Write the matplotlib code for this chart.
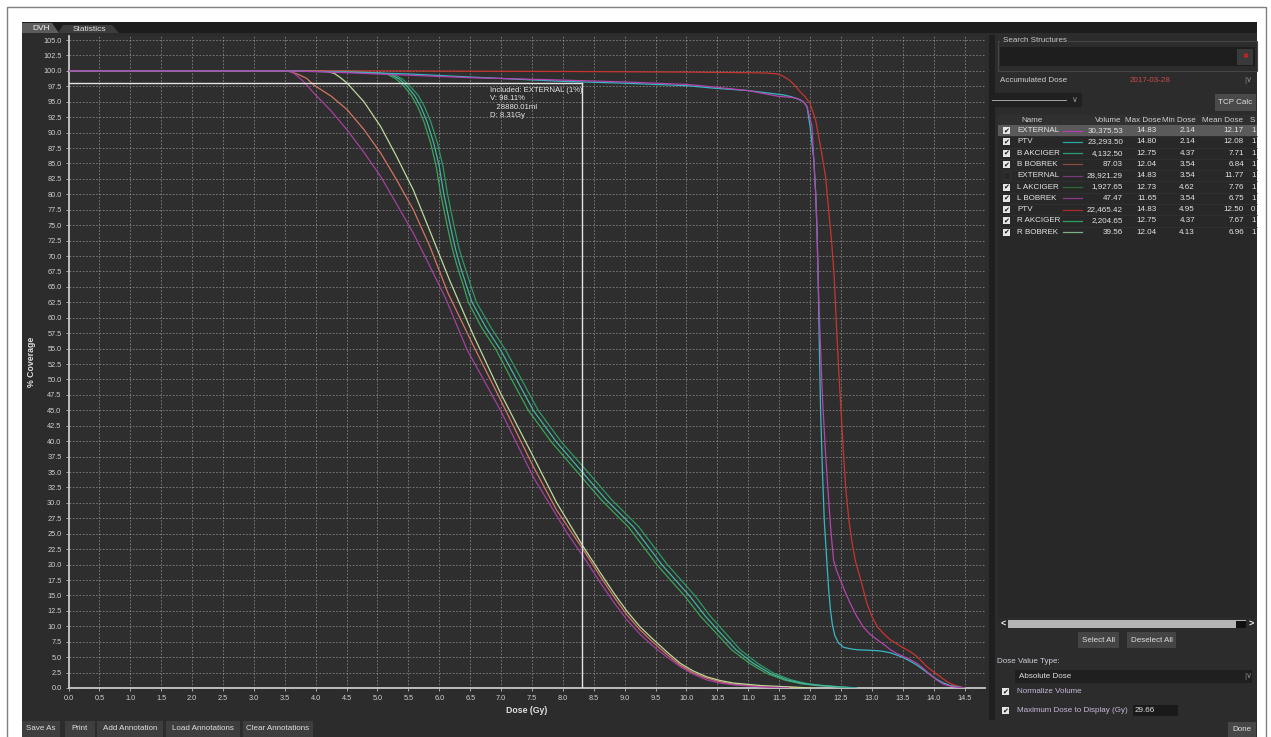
import matplotlib.pyplot as plt
from matplotlib.patches import Rectangle, Polygon
import numpy as np

# 字体设置
plt.rcParams['font.family'] = ['Liberation Sans', 'DejaVu Sans']

# DVH 曲线数据: 剂量 (Gy) 与 体积覆盖率 (%)
ptv_red_dose = [0, 4.95, 8.0, 10.0, 11.0, 11.3, 11.47, 11.55, 11.65, 11.75, 11.84, 11.92, 12.0, 12.09, 12.17,
                12.25, 12.3, 12.35, 12.39, 12.42, 12.46, 12.5, 12.54, 12.58, 12.63, 12.68, 12.73, 12.82, 12.92,
                13.0, 13.09, 13.2, 13.3, 13.51, 13.62, 13.73, 13.89, 14.0, 14.11, 14.22, 14.32, 14.5]
ptv_red_vol = [100, 100, 99.9, 99.8, 99.7, 99.65, 99.5, 99.2, 98.6, 97.7, 96.6, 95.8, 94.7, 92.0, 87.7,
               82.9, 77.5, 72.1, 66.6, 60.0, 52.0, 45.0, 38.0, 32.0, 27.0, 23.5, 20.7, 17.5, 13.7,
               11.6, 9.9, 8.7, 7.8, 6.5, 5.9, 5.1, 3.45, 2.6, 1.8, 1.0, 0.5, 0]

ptv_dose = [0, 3.6, 4.5, 5.5, 6.5, 8.0, 9.0, 10.0, 10.44, 11.0, 11.57, 11.7, 11.84, 11.9, 11.95, 12.0, 12.06,
            12.09, 12.11, 12.13, 12.15, 12.17, 12.2, 12.23, 12.27, 12.3, 12.33, 12.36, 12.4, 12.46, 12.54,
            12.65, 12.76, 13.09, 13.2, 13.3, 13.4, 13.51, 13.62, 13.73, 13.84, 13.95, 14.05, 14.16, 14.27,
            14.38, 14.5]
ptv_vol = [100, 100, 99.8, 99.5, 99.0, 98.3, 98.0, 97.6, 97.2, 96.8, 96.1, 95.8, 95.3, 94.9, 94.2, 91.0, 85.6,
           80.2, 74.8, 66.6, 55.0, 45.0, 35.0, 27.0, 20.7, 16.0, 12.6, 10.3, 8.5, 7.3, 6.6,
           6.35, 6.2, 6.05, 5.9, 5.7, 5.35, 4.9, 4.35, 3.7, 2.9, 2.1, 1.4, 0.8, 0.4,
           0.2, 0]

ext_dose = [0, 3.6, 4.5, 5.5, 6.5, 8.0, 9.0, 10.0, 10.23, 11.0, 11.47, 11.7, 11.8, 11.9, 11.95, 12.03, 12.06,
            12.09, 12.11, 12.14, 12.17, 12.2, 12.25, 12.3, 12.34, 12.38, 12.43, 12.49, 12.57, 12.65, 12.75,
            12.86, 12.97, 13.09, 13.2, 13.3, 13.4, 13.51, 13.62, 13.73, 13.84, 13.95, 14.05, 14.16, 14.32, 14.5]
ext_vol = [100, 100, 99.7, 99.3, 98.9, 98.5, 98.2, 97.8, 97.6, 96.8, 95.9, 95.7, 95.5, 94.9, 94.2, 91.0, 85.6,
           80.2, 74.8, 63.0, 55.0, 47.0, 38.0, 30.5, 25.0, 20.7, 19.0, 17.5, 15.5, 13.7, 11.7,
           9.9, 8.7, 7.8, 7.0, 6.2, 5.6, 5.1, 4.6, 4.0, 3.1, 2.1, 1.3, 0.6, 0.2, 0]

l_bobrek_dose = [0, 3.55, 3.65, 3.8, 3.97, 4.25, 4.51, 4.78, 5.05, 5.3, 5.58, 5.85, 6.1, 6.45, 6.99, 7.52,
                 8.07, 8.35, 8.61, 8.83, 9.04, 9.25, 9.47, 9.7, 9.9, 10.1, 10.33, 10.55, 10.76, 11.2, 11.65]
l_bobrek_vol = [100, 100, 99.6, 98.3, 96.4, 93.5, 90.4, 86.8, 82.9, 78.6, 73.7, 68.3, 63.2, 54.8, 45.0, 34.2,
                25.1, 21.0, 17.0, 13.8, 11.0, 8.7, 6.7, 4.9, 3.45, 2.3, 1.3, 0.8, 0.5, 0.2, 0]

b_bobrek_dose = [0, 3.54, 3.7, 3.85, 3.97, 4.25, 4.51, 4.78, 5.05, 5.3, 5.58, 5.85, 6.14, 6.55, 6.99, 7.52,
                 7.9, 8.33, 8.61, 8.83, 9.04, 9.25, 9.47, 9.7, 9.9, 10.1, 10.33, 10.55, 10.76, 11.3, 12.04]
b_bobrek_vol = [100, 100, 99.5, 98.8, 97.7, 95.9, 93.7, 90.5, 86.7, 82.5, 77.5, 71.5, 64.0, 55.5, 46.7, 35.9,
                28.8, 22.4, 18.0, 14.7, 11.8, 9.4, 7.3, 5.3, 3.7, 2.5, 1.6, 1.0, 0.6, 0.2, 0]

r_bobrek_dose = [0, 4.13, 4.3, 4.4, 4.51, 4.78, 5.05, 5.3, 5.58, 5.85, 6.17, 6.55, 6.99, 7.52, 7.9, 8.33,
                 8.61, 8.83, 9.04, 9.25, 9.47, 9.7, 9.9, 10.1, 10.33, 10.55, 10.76, 11.2, 12.04]
r_bobrek_vol = [100, 100, 99.6, 98.9, 98.0, 95.0, 91.0, 86.3, 80.7, 74.0, 66.0, 57.2, 47.8, 37.5, 30.0, 22.9,
                18.6, 15.3, 12.4, 9.9, 7.8, 5.7, 4.0, 2.8, 1.8, 1.2, 0.8, 0.4, 0]

akciger_vol = [100, 100, 99.5, 98.7, 97.5, 96.0, 94.2, 91.8, 88.3, 84.5, 80.2, 74.8, 71.2, 68.3, 65.2, 62.5,
               58.5, 54.8, 50.0, 45.0, 39.8, 34.8, 30.5, 26.1, 20.0, 14.8, 11.7, 8.9, 6.2, 4.0, 2.4, 1.3,
               0.7, 0.4, 0]
l_akciger_dose = [0, 4.62, 5.15, 5.3, 5.43, 5.55, 5.65, 5.75, 5.86, 5.95, 6.02, 6.13, 6.21, 6.29, 6.39, 6.47,
                  6.68, 6.92, 7.17, 7.44, 7.82, 8.25, 8.62, 9.06, 9.52, 9.98, 10.22, 10.48, 10.73, 11.02,
                  11.29, 11.58, 11.85, 12.1, 12.73]
b_akciger_dose = [0, 4.37, 5.2, 5.35, 5.48, 5.6, 5.7, 5.8, 5.91, 6.0, 6.07, 6.18, 6.26, 6.34, 6.44, 6.53,
                  6.75, 6.99, 7.25, 7.52, 7.9, 8.33, 8.7, 9.14, 9.6, 10.06, 10.3, 10.55, 10.8, 11.08,
                  11.35, 11.63, 11.9, 12.17, 12.75]
r_akciger_dose = [0, 4.37, 5.25, 5.4, 5.53, 5.66, 5.76, 5.86, 5.97, 6.06, 6.13, 6.24, 6.32, 6.41, 6.51, 6.6,
                  6.83, 7.07, 7.33, 7.6, 7.98, 8.42, 8.79, 9.23, 9.69, 10.15, 10.38, 10.63, 10.87, 11.15,
                  11.41, 11.7, 11.96, 12.22, 12.75]

# 结构列表
names = ['EXTERNAL', 'PTV', 'B AKCIGER', 'B BOBREK', 'EXTERNAL', 'L AKCIGER', 'L BOBREK', 'PTV',
         'R AKCIGER', 'R BOBREK']
volumes = [30375.53, 23293.50, 4132.50, 87.03, 28921.29, 1927.65, 47.47, 22465.42, 2204.65, 39.56]
max_doses = [14.83, 14.80, 12.75, 12.04, 14.83, 12.73, 11.65, 14.83, 12.75, 12.04]
min_doses = [2.14, 2.14, 4.37, 3.54, 3.54, 4.62, 3.54, 4.95, 4.37, 4.13]
mean_doses = [12.17, 12.08, 7.71, 6.84, 11.77, 7.76, 6.75, 12.50, 7.67, 6.96]
last_col = ['1', '1', '1', '1', '1', '1', '1', '0', '1', '1']
checked = [True, True, True, True, False, True, True, True, True, True]
row_colors = ['#b040b0', '#2aa6a6', '#2f9e70', '#8a4b3c', '#7a3a7a', '#2a6a34', '#8a3a8a', '#a82a2a',
              '#30a060', '#7fb088']

# 标注点
ann_dose = 8.31
ann_vol = 98.11
ann_ml = 28880.01

W, H = 1271, 737
fig = plt.figure(figsize=(W / 100, H / 100), dpi=100)
fig.patch.set_facecolor('white')

# 界面底层 (像素坐标)
ui = fig.add_axes([0, 0, 1, 1])
ui.set_xlim(0, W)
ui.set_ylim(H, 0)
ui.axis('off')


def box(x0, y0, x1, y1, fc, ec='none', lw=0.8, z=1):
    ui.add_patch(Rectangle((x0, y0), x1 - x0, y1 - y0, facecolor=fc, edgecolor=ec, linewidth=lw, zorder=z))


def txt(x, y, s, size=5.8, color='#d8d8d8', ha='left', **kw):
    ui.text(x, y, s, fontsize=size, color=color, ha=ha, va='center', zorder=5, **kw)


def checkbox(x, y, on=True):
    if on:
        box(x, y - 3.5, x + 7, y + 3.5, '#e6e6e6', z=4)
        ui.text(x + 3.6, y + 0.3, '✔', fontsize=5, color='#111111', ha='center', va='center', zorder=6)
    else:
        box(x, y - 3.5, x + 7, y + 3.5, '#262626', ec='#3a3a3a', lw=0.5, z=4)


def button(x0, y0, x1, y1, s, fc='#3e3e3e'):
    box(x0, y0, x1, y1, fc, z=2)
    txt((x0 + x1) / 2, (y0 + y1) / 2, s, ha='center', color='#e0e0e0')


# 外框和面板
ui.add_patch(Rectangle((7, 7), 1259, 740, fill=False, edgecolor='#808080', linewidth=1, zorder=1))
box(22, 22, 1257, 737, '#2c2c2c')
box(22, 22, 1257, 33, '#1d1d1d', z=2)
ui.add_patch(Polygon([(22, 33), (22, 23), (52, 23), (59, 33)], closed=True, fc='#5c5c5c', ec='none', zorder=3))
ui.add_patch(Polygon([(58, 33), (63, 25), (112, 25), (119, 33)], closed=True, fc='#3c3c3c', ec='none', zorder=3))
txt(32, 28.5, 'DVH', size=6, color='#eeeeee')
txt(73, 29.3, 'Statistics', size=6, color='#e0e0e0')

# 分隔条
box(989, 35, 995, 720, '#1f1f1f', z=2)

# 右侧面板: 搜索
ui.add_patch(Rectangle((998, 41), 259, 30, fill=False, edgecolor='#464646', linewidth=0.8, zorder=2))
box(1000, 36, 1068, 44, '#2c2c2c', z=2)
txt(1003, 40, 'Search Structures', color='#c8c8c8')
box(1000, 47, 1255, 66, '#1e1e1e', z=3)
box(1237, 48.5, 1253, 64.5, '#3a3a3a', z=3)
ui.text(1245, 56.5, '✖', fontsize=5, color='#e02020', ha='center', va='center', zorder=6)

txt(1000, 80.5, 'Accumulated Dose', color='#d0d0d0')
txt(1150, 80.5, '2017-03-28', color='#d04848', ha='center')
txt(1244, 80.5, '|∨', color='#8a8a8a')

# 下拉框和按钮
box(990, 93, 1082, 107, '#202020', z=2)
ui.plot([992, 1066], [100, 100], color='#bbbbbb', lw=0.6, zorder=3)
txt(1072, 100, '∨', color='#9a9a9a')
button(1215, 94, 1256, 111, 'TCP Calc', fc='#4a4a4a')

# 结构表格
box(998, 115, 1257, 618, '#282828', z=2)
box(998, 115, 1257, 126, '#303030', z=2)
hy = 120.5
txt(1032, hy, 'Name', ha='center', color='#d0d0d0')
txt(1108, hy, 'Volume', ha='center', color='#d0d0d0')
txt(1143, hy, 'Max Dose', ha='center', color='#d0d0d0')
txt(1179, hy, 'Min Dose', ha='center', color='#d0d0d0')
txt(1223, hy, 'Mean Dose', ha='center', color='#d0d0d0')
txt(1250, hy, 'S', color='#d0d0d0')

row_h = 11.3
for i, name in enumerate(names):
    y = 130.5 + i * row_h
    if i == 0:
        box(998, y - 5.4, 1257, y + 5.4, '#5a5a5a', z=3)
    else:
        ui.plot([998, 1257], [y - 5.6, y - 5.6], color='#333333', lw=0.5, zorder=3)
    checkbox(1003, y, checked[i])
    txt(1017, y, name, color='#e4e4e4')
    ui.plot([1063, 1082], [y, y], color=row_colors[i], lw=0.9, zorder=4)
    txt(1123, y, f'{volumes[i]:,.2f}', ha='right', color='#e4e4e4')
    txt(1157, y, f'{max_doses[i]:.2f}', ha='right', color='#e4e4e4')
    txt(1195, y, f'{min_doses[i]:.2f}', ha='right', color='#e4e4e4')
    txt(1244, y, f'{mean_doses[i]:.2f}', ha='right', color='#e4e4e4')
    txt(1251, y, last_col[i], color='#e4e4e4')

# 滚动条
box(998, 619, 1256, 629, '#2a2a2a', z=3)
box(1008, 620, 1246, 628, '#b4b4b4', z=4)
box(1236, 620.5, 1246, 627.5, '#101010', z=5)
txt(1001, 624, '<', size=6.5, color='#f0f0f0', fontweight='bold')
txt(1249, 624, '>', size=6.5, color='#f0f0f0', fontweight='bold')

button(1078, 632, 1119, 648, 'Select All', fc='#444444')
button(1127, 632, 1176, 648, 'Deselect All', fc='#444444')

txt(997, 661.5, 'Dose Value Type:', color='#d4ccdc')
box(1015, 670, 1252, 683, '#1f1f1f', z=2)
txt(1019, 676.5, 'Absolute Dose', color='#e0e0e0')
txt(1244, 676.5, '|∨', color='#8a8a8a')

checkbox(1002, 691.5, True)
txt(1017, 691.5, 'Normalize Volume', color='#c8b8dc')
checkbox(1002, 710.5, True)
txt(1017, 710.5, 'Maximum Dose to Display (Gy)', color='#c8b8dc')
box(1133, 705, 1178, 716, '#1a1a1a', z=2)
txt(1135, 710.5, '29.66', color='#e0e0e0')
button(1228, 722, 1256, 737, 'Done', fc='#474747')

# 底部按钮
button(22, 721, 60, 737, 'Save As')
button(65, 721, 95, 737, 'Print')
button(97, 721, 163, 737, 'Add Annotation')
button(166, 721, 240, 737, 'Load Annotations')
button(243, 721, 313, 737, 'Clear Annotations')

# DVH 主图
px_per_gy = 61.8
x_left, x_right, y_top, y_bot = 68.5, 985, 36.3, 688
ax = fig.add_axes([x_left / W, (H - y_bot) / H, (x_right - x_left) / W, (y_bot - y_top) / H])
ax.set_facecolor('#2e2e2e')
ax.set_xlim(0, (x_right - x_left) / px_per_gy)
ax.set_ylim(0, 105.6)

ax.set_xticks(np.arange(0, 14.51, 0.5))
ax.set_xticklabels([f'{v:.1f}' for v in np.arange(0, 14.51, 0.5)])
ax.set_yticks(np.arange(0, 105.1, 2.5))
ax.set_yticklabels([f'{v:.1f}' for v in np.arange(0, 105.1, 2.5)])
ax.tick_params(colors='#bdbdbd', labelcolor='#d0d0d0', labelsize=5.3, length=2, width=0.6, pad=3)
ax.grid(True, color='#b8b8b8', linestyle=(0, (2, 2)), linewidth=0.6, alpha=0.62)
ax.set_axisbelow(True)
for side in ['top', 'right']:
    ax.spines[side].set_visible(False)
for side in ['left', 'bottom']:
    ax.spines[side].set_color('#c8c8c8')
    ax.spines[side].set_linewidth(1.3)

ax.set_xlabel('Dose (Gy)', fontsize=6.3, fontweight='bold', color='#e0e0e0', labelpad=3)
ax.set_ylabel('% Coverage', fontsize=6.3, fontweight='bold', color='#e0e0e0', labelpad=5)

lw = 0.9
ax.plot(l_akciger_dose, akciger_vol, color='#3aa458', lw=lw, zorder=3)
ax.plot(r_akciger_dose, akciger_vol, color='#2d9a62', lw=lw, zorder=3)
ax.plot(b_akciger_dose, akciger_vol, color='#48b0a4', lw=lw, zorder=3)
ax.plot(b_bobrek_dose, b_bobrek_vol, color='#d47462', lw=lw, zorder=3)
ax.plot(r_bobrek_dose, r_bobrek_vol, color='#bcd89a', lw=lw, zorder=3)
ax.plot(l_bobrek_dose, l_bobrek_vol, color='#a4409e', lw=lw, zorder=3)
ax.plot(ptv_red_dose, ptv_red_vol, color='#c83430', lw=lw, zorder=3)
ax.plot(ptv_dose, ptv_vol, color='#36b8c2', lw=lw, zorder=4)
ax.plot(ext_dose, ext_vol, color='#b444b0', lw=lw, zorder=4)

# 标注十字线
ax.plot([0, ann_dose], [ann_vol, ann_vol], color='#e4e4e4', lw=1.0, zorder=6)
ax.plot([ann_dose, ann_dose], [0, ann_vol], color='#e4e4e4', lw=1.0, zorder=6)
ax.text(6.82, 97.4,
        f'Included: EXTERNAL (1%)\nV: {ann_vol:.2f}%\n   {ann_ml:.2f}ml\nD: {ann_dose:.2f}Gy',
        fontsize=5.6, color='#e8e8e8', ha='left', va='top', linespacing=1.3, zorder=7)

plt.savefig('out.png', dpi=100, facecolor=fig.get_facecolor())
